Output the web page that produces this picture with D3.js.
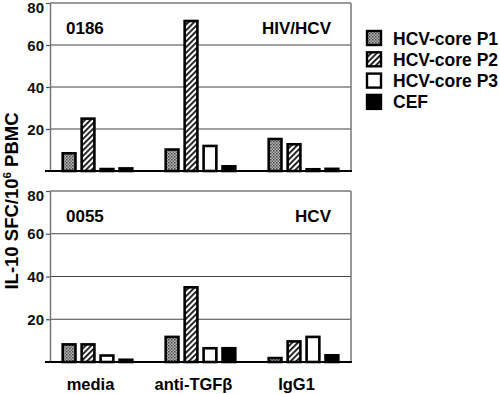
<!DOCTYPE html>
<html>
<head>
<meta charset="utf-8">
<script src="https://cdn.jsdelivr.net/npm/d3@7"></script>
<style>
  body { margin: 0; background: #fff; }
  text { font-family: "Liberation Sans", Arial, sans-serif; font-weight: bold; }
</style>
</head>
<body>
<script>
var width = 500
var height = 394

// data
var groups = ["media", "anti-TGF\u03b2", "IgG1"]
var series = ["HCV-core P1", "HCV-core P2", "HCV-core P3", "CEF"]
var values0186 = [
  [9, 25.5, 1.5, 1.8],
  [10.8, 72, 12.5, 2.8],
  [15.8, 13.3, 1.4, 1.6]
]
var values0055 = [
  [8.8, 8.8, 3.6, 1.6],
  [12.3, 35.5, 7, 7],
  [2.4, 10.2, 12.3, 3.7]
]
var yTicks = [20, 40, 60, 80]

var panels = [
  { id: "0186", tag: "HIV/HCV", values: values0186, top: 3, bottom: 171 },
  { id: "0055", tag: "HCV", values: values0055, top: 191, bottom: 362 }
]

var left = 50, right = 351

const svg = d3.select("body").append("svg")
  .attr("width", width).attr("height", height)

// patterns for the fills
var defs = svg.append("defs")
var dots = defs.append("pattern").attr("id", "p1")
  .attr("width", 3).attr("height", 3).attr("patternUnits", "userSpaceOnUse")
dots.append("rect").attr("width", 3).attr("height", 3).attr("fill", "#b8b8b8")
dots.append("rect").attr("width", 1.5).attr("height", 1.5).attr("fill", "#444")
dots.append("rect").attr("x", 1.5).attr("y", 1.5).attr("width", 1.5).attr("height", 1.5).attr("fill", "#666")

var stripes = defs.append("pattern").attr("id", "p2")
  .attr("width", 4).attr("height", 4).attr("patternUnits", "userSpaceOnUse")
  .attr("patternTransform", "rotate(45)")
stripes.append("rect").attr("width", 4).attr("height", 4).attr("fill", "#fff")
stripes.append("rect").attr("width", 1.8).attr("height", 4).attr("fill", "#111")

var fills = ["url(#p1)", "url(#p2)", "#fff", "#000"]

var x0 = d3.scaleBand().domain(groups).range([46, 355]).padding(0)
var x1 = d3.scaleBand().domain(series).range([-36, 36]).paddingInner(0.2).paddingOuter(0)

panels.forEach(p => {
  var y = d3.scaleLinear().domain([0, 80]).range([p.bottom, p.top])
  var g = svg.append("g")

  // grid
  g.selectAll(".grid").data(yTicks.slice(0, 3)).join("line")
    .attr("x1", left).attr("x2", right)
    .attr("y1", d => y(d)).attr("y2", d => y(d))
    .attr("stroke", "#444").attr("stroke-width", 1.2)

  // frame
  g.append("line").attr("x1", left).attr("x2", right)
    .attr("y1", y(80)).attr("y2", y(80)).attr("stroke", "#777").attr("stroke-width", 1.5)
  g.append("line").attr("x1", right).attr("x2", right)
    .attr("y1", y(80)).attr("y2", y(0)).attr("stroke", "#777").attr("stroke-width", 1.5)

  // y axis
  var ax = g.append("g").attr("transform", `translate(${left},0)`)
    .call(d3.axisLeft(y).tickValues(yTicks).tickSize(4).tickSizeOuter(0))
  ax.select(".domain").attr("stroke", "#777").attr("stroke-width", 1.5)
  ax.selectAll(".tick line").attr("stroke", "#555").attr("stroke-width", 1.2)
  ax.selectAll(".tick text").attr("font-size", 15).attr("fill", "#111")
    .attr("font-family", "Liberation Sans, Arial, sans-serif").attr("font-weight", "bold").attr("x", -6)
    .attr("dy", d => d === 80 ? "0.66em" : "0.34em")

  // bars
  p.values.forEach((vals, gi) => {
    g.selectAll(null).data(vals).join("rect")
      .attr("x", (d, i) => x0(groups[gi]) + x0.bandwidth() / 2 + x1(series[i]) + 1.2)
      .attr("width", x1.bandwidth() - 2.4)
      .attr("y", d => y(d) + 1.2)
      .attr("height", d => Math.max(0, y(0) - y(d) - 1.2))
      .attr("fill", (d, i) => fills[i])
      .attr("stroke", "#000").attr("stroke-width", 2.6)
  })

  // baseline
  g.append("line").attr("x1", left - 5).attr("x2", right + 1)
    .attr("y1", y(0)).attr("y2", y(0)).attr("stroke", "#000").attr("stroke-width", 2.2)

  g.append("text").attr("x", 66).attr("y", p.top + 30.5).attr("font-size", 17).text(p.id)
  g.append("text").attr("x", 331).attr("y", p.top + 30.5).attr("font-size", 17)
    .attr("text-anchor", "end").text(p.tag)
})

// category labels
svg.selectAll(".cat").data(groups).join("text")
  .attr("x", d => x0(d) + x0.bandwidth() / 2 - 7).attr("y", 390)
  .attr("text-anchor", "middle").attr("font-size", 16.5).text(d => d)

// y label
svg.append("text").attr("transform", "translate(17.5,201) rotate(-90)")
  .attr("text-anchor", "middle").attr("font-size", 18.5)
  .html('IL-10 SFC/10<tspan dy="-7" font-size="11.5">6</tspan><tspan dy="7"> PBMC</tspan>')

// legend
var leg = svg.append("g").attr("transform", "translate(366,30)")
var row = leg.selectAll("g").data(series).join("g")
  .attr("transform", (d, i) => `translate(0,${i * 21.3})`)
row.append("rect").attr("x", 1).attr("y", 1).attr("width", 14).attr("height", 14)
  .attr("fill", (d, i) => fills[i]).attr("stroke", "#000").attr("stroke-width", 2.4)
row.append("text").attr("x", 27).attr("y", 14.5).attr("font-size", 17.5).text(d => d)
</script>
</body>
</html>
